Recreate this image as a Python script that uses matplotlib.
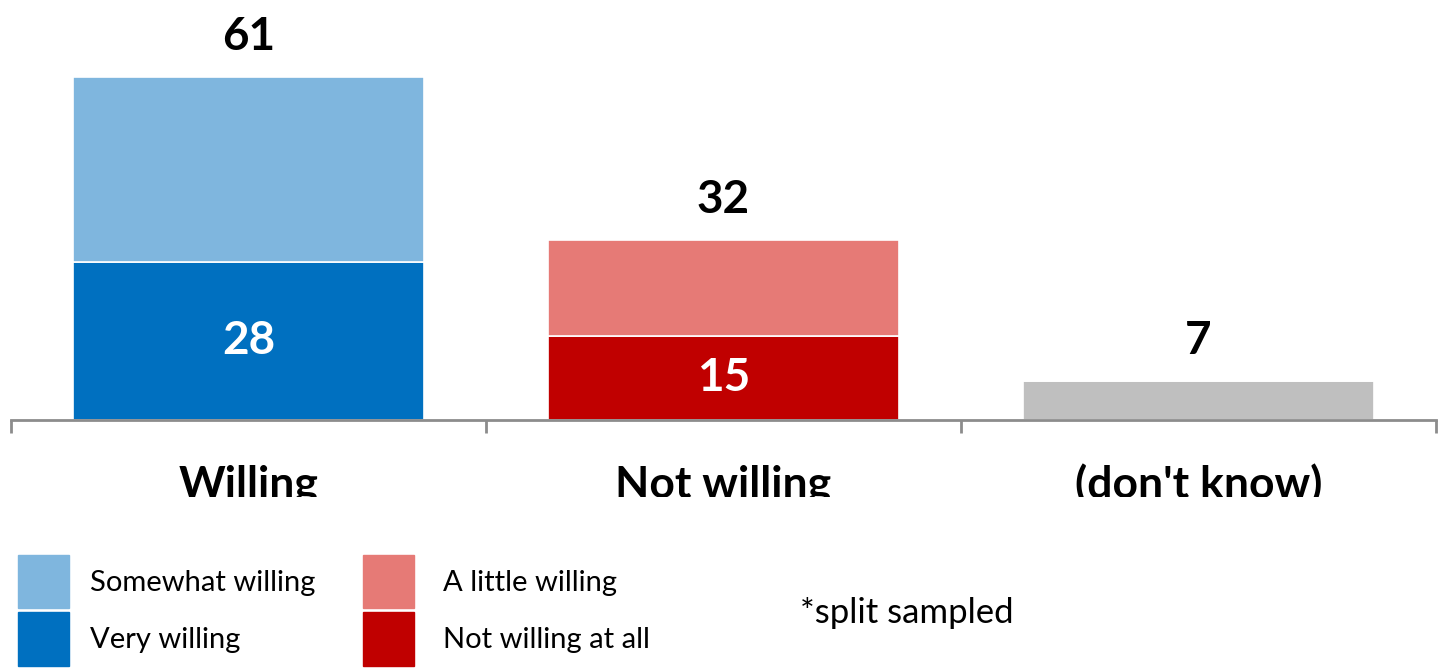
import matplotlib.pyplot as plt
from matplotlib.patches import Patch
from matplotlib.transforms import Bbox, TransformedBbox

plt.rcParams['font.family'] = ['Lato', 'DejaVu Sans']

# Survey answers, in percent
categories = ["Willing", "Not willing", "(don't know)"]
strong = [28, 15, 7]      # very willing / not willing at all / don't know
mild = [33, 17, 0]        # somewhat willing / a little willing
totals = [61, 32, 7]

strong_colors = ["#0070C0", "#C00000", "#BFBFBF"]
mild_colors = ["#7FB6DE", "#E67A76", "#BFBFBF"]
axis_grey = "#8C8C8C"

fig = plt.figure(figsize=(14.47, 6.7), dpi=100)
ax = fig.add_axes([11 / 1447, 1 - 420 / 670, 1425 / 1447, 394 / 670])

x = range(len(categories))
ax.bar(x, strong, width=0.74, color=strong_colors, edgecolor="white", linewidth=1.2)
ax.bar(x, mild, width=0.74, bottom=strong, color=mild_colors, edgecolor="white", linewidth=1.2)

ax.set_xlim(-0.5, len(categories) - 0.5)
ax.set_ylim(0, 70)

# value on top of each stack
for i, t in enumerate(totals):
    ax.annotate(str(t), (i, t), xytext=(0, 19), textcoords="offset points",
                ha="center", va="baseline", fontsize=33, fontweight="bold", color="black")

# value inside the lower segment
for i in range(2):
    ax.text(i, strong[i] / 2, str(strong[i]), ha="center", va="center",
            fontsize=33, fontweight="bold", color="white")

for side in ["left", "right", "top"]:
    ax.spines[side].set_visible(False)
ax.spines["bottom"].set_color(axis_grey)
ax.spines["bottom"].set_linewidth(2)
ax.set_yticks([])
ax.set_xticks([-0.5, 0.5, 1.5, 2.5])
ax.set_xticklabels([])
ax.tick_params(axis="x", length=9, width=2, color=axis_grey, direction="out")

# category names, cut off at the bottom edge of the label band
clip = TransformedBbox(Bbox([[0, 1 - 497 / 670], [1, 1]]), fig.transFigure)
for i, name in enumerate(categories):
    t = ax.annotate(name, (i, 0), xytext=(0, -56), xycoords="data", textcoords="offset points",
                    ha="center", va="baseline", fontsize=32, fontweight="bold",
                    color="black", annotation_clip=False)
    t.set_clip_box(clip)
    t.set_clip_on(True)

leg_kw = dict(frameon=False, fontsize=21, handlelength=1.75, handleheight=2.44,
              handletextpad=0.72, labelspacing=0.14, borderpad=0, borderaxespad=0)
left_handles = [Patch(color=mild_colors[0], label="Somewhat willing"),
                Patch(color=strong_colors[0], label="Very willing")]
right_handles = [Patch(color=mild_colors[1], label="A little willing"),
                 Patch(color=strong_colors[1], label="Not willing at all")]
fig.legend(handles=left_handles, loc="upper left",
           bbox_to_anchor=(18 / 1447, 1 - 555 / 670), **leg_kw)
fig.legend(handles=right_handles, loc="upper left",
           bbox_to_anchor=(363 / 1447, 1 - 555 / 670),
           **{**leg_kw, "handletextpad": 1.0})

fig.text(800 / 1447, 1 - 623 / 670, "*split sampled", ha="left", va="baseline", fontsize=25)

fig.savefig("out.png", dpi=100)
